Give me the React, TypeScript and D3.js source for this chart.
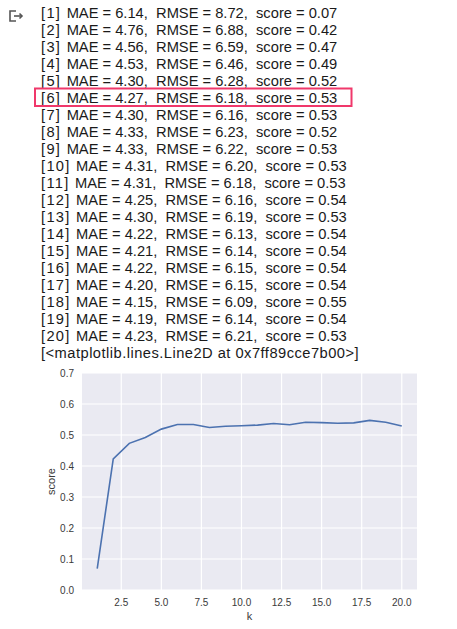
import React from "react";
import * as d3 from "d3";

// k values tried and the evaluation results for each
const ks = [1, 2, 3, 4, 5, 6, 7, 8, 9, 10, 11, 12, 13, 14, 15, 16, 17, 18, 19, 20];
const maes = [6.14, 4.76, 4.56, 4.53, 4.30, 4.27, 4.30, 4.33, 4.33, 4.31, 4.31, 4.25, 4.30, 4.22, 4.21, 4.22, 4.20, 4.15, 4.19, 4.23];
const rmses = [8.72, 6.88, 6.59, 6.46, 6.28, 6.18, 6.16, 6.23, 6.22, 6.20, 6.18, 6.16, 6.19, 6.13, 6.14, 6.15, 6.15, 6.09, 6.14, 6.21];
const scores = [0.069, 0.423, 0.473, 0.492, 0.519, 0.534, 0.534, 0.524, 0.528, 0.530, 0.532, 0.537, 0.533, 0.541, 0.540, 0.538, 0.539, 0.547, 0.541, 0.529];

const yTicks = [0.0, 0.1, 0.2, 0.3, 0.4, 0.5, 0.6, 0.7];
const xTicks = [2.5, 5.0, 7.5, 10.0, 12.5, 15.0, 17.5, 20.0];
const reprLine = "[<matplotlib.lines.Line2D at 0x7ff89cce7b00>]";
const highlightIndex = 5;

const W = 457;
const H = 629;

export default function App() {
  const textX = 41;
  const baseY = 18;
  const lineH = 17;

  const plot = { left: 82, right: 417, top: 373, bottom: 590 };
  const span = ks[ks.length - 1] - ks[0];
  const x = d3
    .scaleLinear()
    .domain([ks[0] - span * 0.05, ks[ks.length - 1] + span * 0.05])
    .range([plot.left, plot.right]);
  const y = d3.scaleLinear().domain([0, 0.7]).range([plot.bottom, plot.top]);

  const line = d3
    .line<number>()
    .x((_, i) => x(ks[i]))
    .y((d) => y(d));

  const rows = ks.map((k, i) => ({
    tag: `[${k}] `,
    body: `MAE = ${maes[i].toFixed(2)},  RMSE = ${rmses[i].toFixed(2)},  score = ${scores[i].toFixed(2)}`,
  }));

  const hlTop = baseY + lineH * highlightIndex - 14.5;

  return (
    <svg
      width={W}
      height={H}
      style={{ position: "absolute", left: 0, top: 0, background: "#fff" }}
      fontFamily="'Liberation Sans', Arial, sans-serif"
    >
      {/* output cell icon */}
      <g stroke="#555" strokeWidth={1.6} fill="none">
        <path d="M16 11 H10 V21 H16" />
        <path d="M14 16 H22" />
        <path d="M19.5 13.5 L22 16 L19.5 18.5" />
      </g>

      {/* printed results */}
      <g fontSize={14.7} fill="#1a1a1a">
        {rows.map((r, i) => (
          <text key={i} x={textX} y={baseY + lineH * i} style={{ whiteSpace: "pre" }}>
            <tspan letterSpacing={1.3}>{r.tag}</tspan>
            <tspan>{r.body}</tspan>
          </text>
        ))}
        <text x={textX} y={baseY + lineH * rows.length} letterSpacing={0.47}>
          {reprLine}
        </text>
      </g>

      {/* highlight of the chosen row */}
      <rect
        x={35}
        y={hlTop}
        width={316.5}
        height={17.5}
        fill="none"
        stroke="#f0386b"
        strokeWidth={2}
      />

      {/* chart */}
      <rect
        x={plot.left}
        y={plot.top}
        width={plot.right - plot.left}
        height={plot.bottom - plot.top}
        fill="#EAEAF2"
      />
      <g stroke="#fff" strokeWidth={1.2}>
        {yTicks.map((t) => (
          <line key={"gy" + t} x1={plot.left} x2={plot.right} y1={y(t)} y2={y(t)} />
        ))}
        {xTicks.map((t) => (
          <line key={"gx" + t} x1={x(t)} x2={x(t)} y1={plot.top} y2={plot.bottom} />
        ))}
      </g>
      <path d={line(scores) ?? ""} fill="none" stroke="#4C72B0" strokeWidth={1.6} />

      <g fontSize={10} fill="#3a3a3a">
        {yTicks.map((t) => (
          <text key={"ty" + t} x={plot.left - 8} y={y(t)} dy="0.35em" textAnchor="end">
            {t.toFixed(1)}
          </text>
        ))}
        {xTicks.map((t) => (
          <text key={"tx" + t} x={x(t)} y={plot.bottom + 15.5} textAnchor="middle">
            {t.toFixed(1)}
          </text>
        ))}
        <text x={(plot.left + plot.right) / 2} y={plot.bottom + 30} textAnchor="middle" fontSize={11}>
          k
        </text>
        <text
          transform={`translate(55, ${(plot.top + plot.bottom) / 2}) rotate(-90)`}
          textAnchor="middle"
          fontSize={11}
        >
          score
        </text>
      </g>
    </svg>
  );
}
